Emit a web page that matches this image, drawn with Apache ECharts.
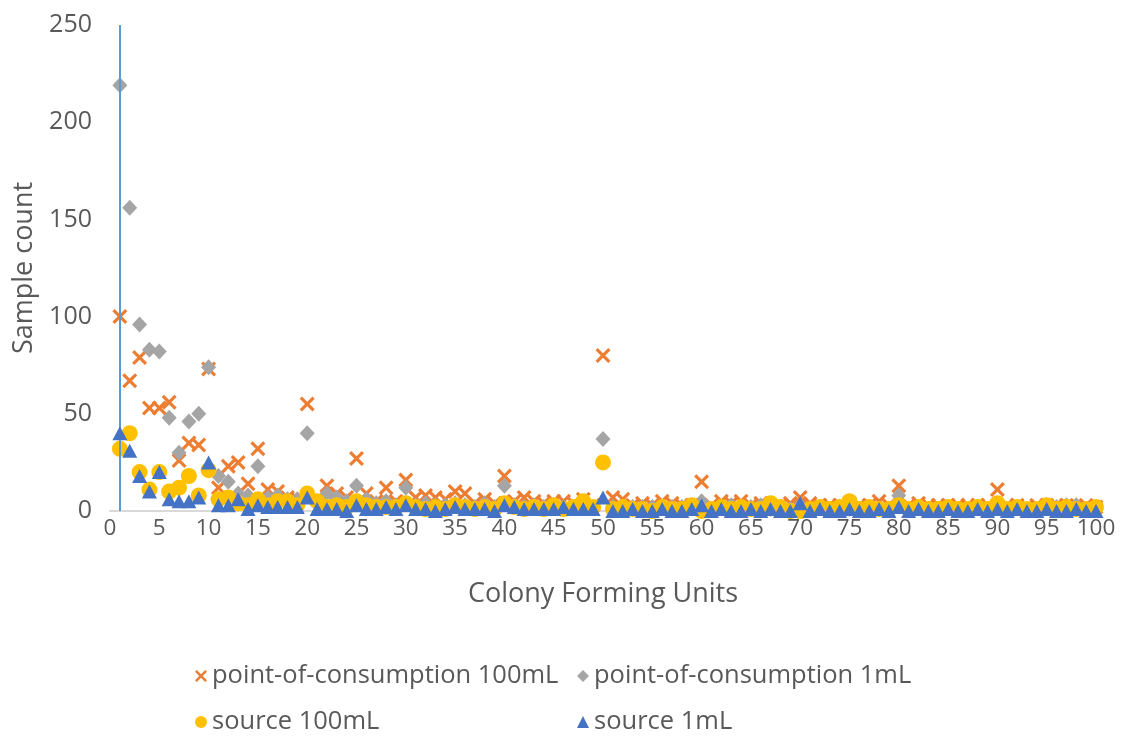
<!DOCTYPE html>
<html><head><meta charset="utf-8">
<script src="https://cdn.jsdelivr.net/npm/echarts@6/dist/echarts.min.js"></script>
<style>html,body{margin:0;padding:0;background:#fff}#c{width:1128px;height:738px}</style>
</head><body><div id="c"></div>
<script>
const cfu = Array.from({length: 100}, (_, i) => i + 1);
const poc100 = [100,67,79,53,53,56,26,35,34,73, 12,23,25,14,32,11,10,7,6,55, 6,13,9,7,27,9,5,12,5,16, 7,8,7,6,10,9,4,6,4,18, 5,7,5,4,5,5,4,6,3,80, 7,6,3,4,3,5,4,3,3,15, 3,5,4,5,3,4,3,3,4,7, 4,3,3,3,4,3,3,5,3,13, 3,4,3,3,3,3,3,3,3,11, 3,3,2,3,3,3,3,2,3,2];
const poc1 = [219,156,96,83,82,48,30,46,50,74, 18,15,9,8,23,7,8,6,6,40, 5,9,7,5,13,6,4,5,3,12, 3,4,3,3,4,3,2,4,2,13, 3,2,3,2,3,2,2,2,2,37, 2,2,2,2,2,2,2,2,2,5, 1,2,3,1,2,3,1,2,1,3, 1,2,1,2,1,1,2,1,1,8, 1,2,1,1,2,1,1,2,1,3, 1,2,1,1,3,2,3,3,1,1];
const source100 = [32,40,20,11,20,10,12,18,8,21, 6,7,4,3,6,3,5,5,3,9, 5,2,3,2,5,3,2,2,2,4, 2,1,2,1,3,2,1,2,1,4, 2,1,2,1,3,1,2,5,2,25, 1,2,1,1,0,2,1,1,3,0, 1,2,1,2,1,1,4,2,0,0, 1,2,1,2,5,1,2,1,1,3, 1,2,1,1,2,1,1,2,1,4, 1,2,1,1,3,1,2,1,1,2];
const source1 = [40,31,18,10,20,6,5,5,7,25, 3,3,6,1,3,2,2,2,2,7, 1,1,1,0,3,1,1,2,1,3, 1,1,0,1,2,1,1,1,0,3, 2,1,1,1,1,2,1,1,1,7, 0,0,1,0,0,1,0,0,1,3, 0,1,0,0,1,0,1,0,0,4, 0,1,0,0,1,0,0,1,0,2, 0,1,0,0,1,0,0,1,0,1, 0,1,0,0,1,0,0,1,0,0];
const names = ['point-of-consumption 100mL','point-of-consumption 1mL','source 100mL','source 1mL'];
const yTicks = [0, 50, 100, 150, 200, 250];

const FONT = 'Open Sans';
const TXT = '#595959';
const crossPath = 'path://M0,1.5 L1.5,0 L5,3.5 L8.5,0 L10,1.5 L6.5,5 L10,8.5 L8.5,10 L5,6.5 L1.5,10 L0,8.5 L3.5,5 Z';
const pair = arr => arr.map((v, i) => [cfu[i], v]);

const chart = echarts.init(document.getElementById('c'), null, {renderer: 'canvas'});
const legendBase = {itemWidth: 12, itemHeight: 12, itemGap: 6, textStyle: {fontFamily: FONT, fontSize: 25.5, color: TXT}};
chart.setOption({
  animation: false,
  textStyle: {fontFamily: FONT},
  grid: {left: 110, right: 32, top: 25, bottom: 227},
  xAxis: {
    type: 'value', min: 0, max: 100, interval: 5,
    name: 'Colony Forming Units', nameLocation: 'middle', nameGap: 70,
    nameTextStyle: {fontFamily: FONT, fontSize: 27, color: TXT},
    axisLine: {show: true, lineStyle: {color: '#d9d9d9', width: 2}},
    axisTick: {show: false}, splitLine: {show: false},
    axisLabel: {fontFamily: FONT, fontSize: 22.5, color: TXT, margin: 6}
  },
  yAxis: {
    type: 'value', min: yTicks[0], max: yTicks[yTicks.length - 1], interval: 50,
    name: 'Sample count', nameLocation: 'middle', nameGap: 71,
    nameTextStyle: {fontFamily: FONT, fontSize: 27, color: TXT},
    axisLine: {show: false}, axisTick: {show: false}, splitLine: {show: false},
    axisLabel: {fontFamily: FONT, fontSize: 25, color: TXT, margin: 18}
  },
  legend: [
    Object.assign({}, legendBase, {data: [{name: names[0], icon: crossPath}], left: 190, top: 658}),
    Object.assign({}, legendBase, {data: [{name: names[1], icon: 'diamond'}], left: 572, top: 658}),
    Object.assign({}, legendBase, {data: [{name: names[2], icon: 'circle'}], left: 190, top: 704}),
    Object.assign({}, legendBase, {data: [{name: names[3], icon: 'triangle'}], left: 572, top: 704})
  ],
  series: [
    {name: names[0], type: 'scatter', data: pair(poc100), symbol: crossPath, symbolSize: 15,
     itemStyle: {color: '#ed7d31', opacity: 1}, z: 2},
    {name: names[1], type: 'scatter', data: pair(poc1), symbol: 'diamond', symbolSize: [15, 16],
     itemStyle: {color: '#a5a5a5', opacity: 1}, z: 3},
    {name: names[2], type: 'scatter', data: pair(source100), symbol: 'circle', symbolSize: 16,
     itemStyle: {color: '#ffc000', opacity: 1}, z: 4},
    {name: names[3], type: 'scatter', data: pair(source1), symbol: 'triangle', symbolSize: [15, 14],
     itemStyle: {color: '#4472c4', opacity: 1}, z: 5,
     markLine: {silent: true, symbol: 'none', label: {show: false},
       lineStyle: {color: '#5b9bd5', width: 2, type: 'solid'},
       data: [{xAxis: cfu[0]}]}}
  ]
});
</script></body></html>
